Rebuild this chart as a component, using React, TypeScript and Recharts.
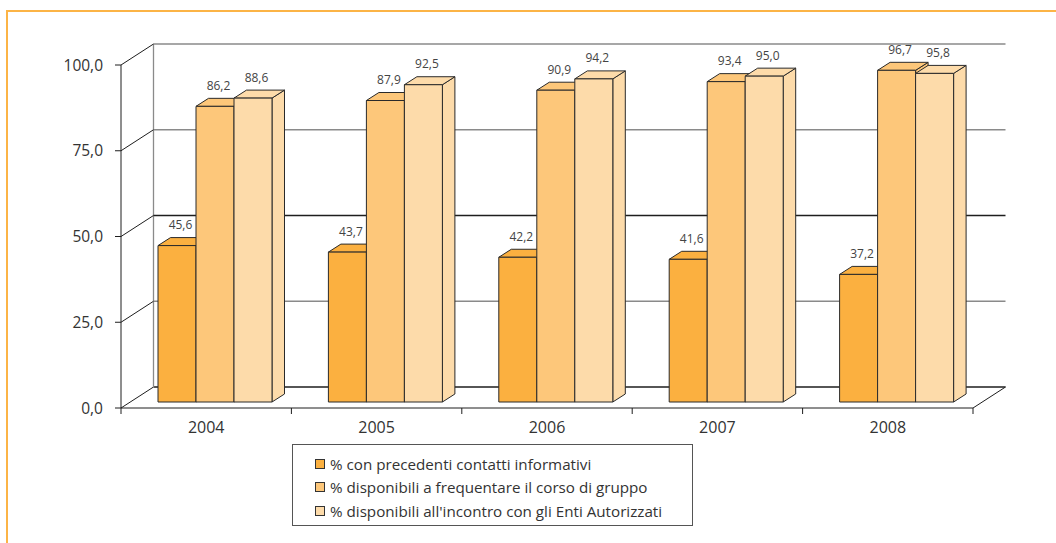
import React from 'react';
import { BarChart, Bar, XAxis, YAxis, CartesianGrid, LabelList, Legend } from 'recharts';

const years = ['2004', '2005', '2006', '2007', '2008'];
const contatti = [45.6, 43.7, 42.2, 41.6, 37.2];
const corso = [86.2, 87.9, 90.9, 93.4, 96.7];
const enti = [88.6, 92.5, 94.2, 95.0, 95.8];
const yTicks = [0, 25, 50, 75, 100];
const seriesKeys = ['contatti', 'corso', 'enti'];
const seriesNames = [
  '% con precedenti contatti informativi',
  '% disponibili a frequentare il corso di gruppo',
  "% disponibili all'incontro con gli Enti Autorizzati",
];
const seriesColors = ['#FBB040', '#FDC77A', '#FDDBAA'];

const data = years.map((y, i) => ({ year: y, contatti: contatti[i], corso: corso[i], enti: enti[i] }));

const W = 1056;
const H = 543;
const M = { top: 65, right: 83, left: 0, bottom: 105 };
const YAXIS_W = 121;
const XAXIS_H = 30;
const WALL_DX = 32.5;
const WALL_DY = -21;
const BAR_DX = 9;
const BAR_DY = -6;
const DEPTH_DX = 12.5;
const DEPTH_DY = -8;
const FONT = '"Open Sans", "DejaVu Sans", sans-serif';
const BAND = (W - M.left - YAXIS_W - M.right) / years.length;

const fmt = (v: number) => Number(v).toFixed(1).replace('.', ',');

const Prism = (props: any) => {
  const { x, y, width, height, fill } = props;
  if (width == null || height == null || isNaN(x) || isNaN(y)) return null;
  const fx = x + BAR_DX;
  const fy = y + BAR_DY;
  const top = `${fx},${fy} ${fx + DEPTH_DX},${fy + DEPTH_DY} ${fx + width + DEPTH_DX},${fy + DEPTH_DY} ${fx + width},${fy}`;
  const side = `${fx + width},${fy} ${fx + width + DEPTH_DX},${fy + DEPTH_DY} ${fx + width + DEPTH_DX},${fy + height + DEPTH_DY} ${fx + width},${fy + height}`;
  return (
    <g stroke="#2a2a2a" strokeWidth={1} strokeLinejoin="round">
      <polygon points={side} fill={fill} />
      <polygon points={top} fill={fill} />
      <rect x={fx} y={fy} width={width} height={height} fill={fill} />
    </g>
  );
};

const ValueLabel = (props: any) => {
  const { x, y, width, value } = props;
  if (value == null) return null;
  return (
    <text
      x={x + width / 2 + BAR_DX + 3.5}
      y={y + BAR_DY - 16.5}
      textAnchor="middle"
      fontSize={12}
      fill="#444"
      fontFamily={FONT}
    >
      {fmt(value)}
    </text>
  );
};

const GridLine = (props: any) => {
  const { x1, y1, x2, key } = props;
  const top = props.y != null ? props.y : M.top;
  const bottom = props.height != null ? top + props.height : H - M.bottom - XAXIS_H;
  const v = Math.round(((bottom - y1) / (bottom - top)) * 100);
  const dark = v === 0 || v === 50;
  const isBottom = Math.abs(y1 - bottom) < 0.5;
  return (
    <g key={key}>
      <line
        x1={x1 + WALL_DX}
        y1={y1 + WALL_DY}
        x2={x2 + WALL_DX}
        y2={y1 + WALL_DY}
        stroke={dark ? '#1e1e1e' : '#8a8a8a'}
        strokeWidth={1.3}
      />
      <line x1={x1} y1={y1} x2={x1 + WALL_DX} y2={y1 + WALL_DY} stroke="#1e1e1e" strokeWidth={1} />
      {isBottom && (
        <>
          <line x1={x2} y1={y1} x2={x2 + WALL_DX} y2={y1 + WALL_DY} stroke="#1e1e1e" strokeWidth={1} />
          <line
            x1={x1 + WALL_DX}
            y1={y1 + WALL_DY}
            x2={x1 + WALL_DX}
            y2={top + WALL_DY}
            stroke="#8a8a8a"
            strokeWidth={1.3}
          />
        </>
      )}
    </g>
  );
};

const XTick = (props: any) => {
  const { x, y, payload, index } = props;
  return (
    <g>
      <line x1={x - BAND / 2} y1={y} x2={x - BAND / 2} y2={y + 6} stroke="#1e1e1e" />
      {index === years.length - 1 && (
        <line x1={x + BAND / 2} y1={y} x2={x + BAND / 2} y2={y + 6} stroke="#1e1e1e" />
      )}
      <text x={x} y={y + 25} textAnchor="middle" fontSize={16} fill="#333" fontFamily={FONT}>
        {payload.value}
      </text>
    </g>
  );
};

const LegendBox = () => (
  <div
    style={{
      position: 'relative',
      width: 401,
      height: 82,
      boxSizing: 'border-box',
      border: '1px solid #555',
      background: '#fff',
      fontFamily: FONT,
      fontSize: 15.2,
      color: '#333',
    }}
  >
    {seriesNames.map((name, i) => (
      <div
        key={name}
        style={{
          position: 'absolute',
          left: 22,
          top: 19 - 11.5 + i * 23.3,
          height: 23,
          display: 'flex',
          alignItems: 'center',
          whiteSpace: 'nowrap',
        }}
      >
        <span
          style={{
            display: 'inline-block',
            width: 8,
            height: 8,
            border: '1px solid #333',
            background: seriesColors[i],
            marginRight: 5,
          }}
        />
        <span>{name}</span>
      </div>
    ))}
  </div>
);

export default function App() {
  return (
    <div style={{ position: 'absolute', left: 0, top: 0, width: W, height: H, background: '#fff' }}>
      <div
        style={{
          position: 'absolute',
          left: 6,
          top: 10,
          width: W - 6,
          height: H - 10,
          boxSizing: 'border-box',
          borderTop: '2px solid #FCB446',
          borderLeft: '2px solid #FCB446',
        }}
      />
      <div style={{ position: 'absolute', left: 0, top: 0 }}>
        <BarChart width={W} height={H} data={data} margin={M} barSize={38} barGap={0}>
          <CartesianGrid vertical={false} horizontal={(p: any) => GridLine(p)} />
          <XAxis
            dataKey="year"
            height={XAXIS_H}
            axisLine={{ stroke: '#1e1e1e' }}
            tickLine={false}
            tickSize={0}
            tickMargin={0}
            interval={0}
            tick={<XTick />}
          />
          <YAxis
            width={YAXIS_W}
            domain={[0, 100]}
            ticks={yTicks}
            interval={0}
            tickFormatter={fmt}
            axisLine={{ stroke: '#1e1e1e' }}
            tickLine={{ stroke: '#1e1e1e' }}
            tickSize={6}
            tickMargin={12}
            tick={{ fontSize: 15.5, fill: '#333', fontFamily: FONT }}
          />
          <Legend
            layout="vertical"
            align="center"
            verticalAlign="middle"
            wrapperStyle={{ left: 292, top: 444, width: 401, height: 82 }}
            content={() => <LegendBox />}
          />
          {seriesKeys.map((k, i) => (
            <Bar
              key={k}
              dataKey={k}
              name={seriesNames[i]}
              fill={seriesColors[i]}
              isAnimationActive={false}
              shape={<Prism />}
            >
              <LabelList dataKey={k} content={<ValueLabel />} />
            </Bar>
          ))}
        </BarChart>
      </div>
    </div>
  );
}
